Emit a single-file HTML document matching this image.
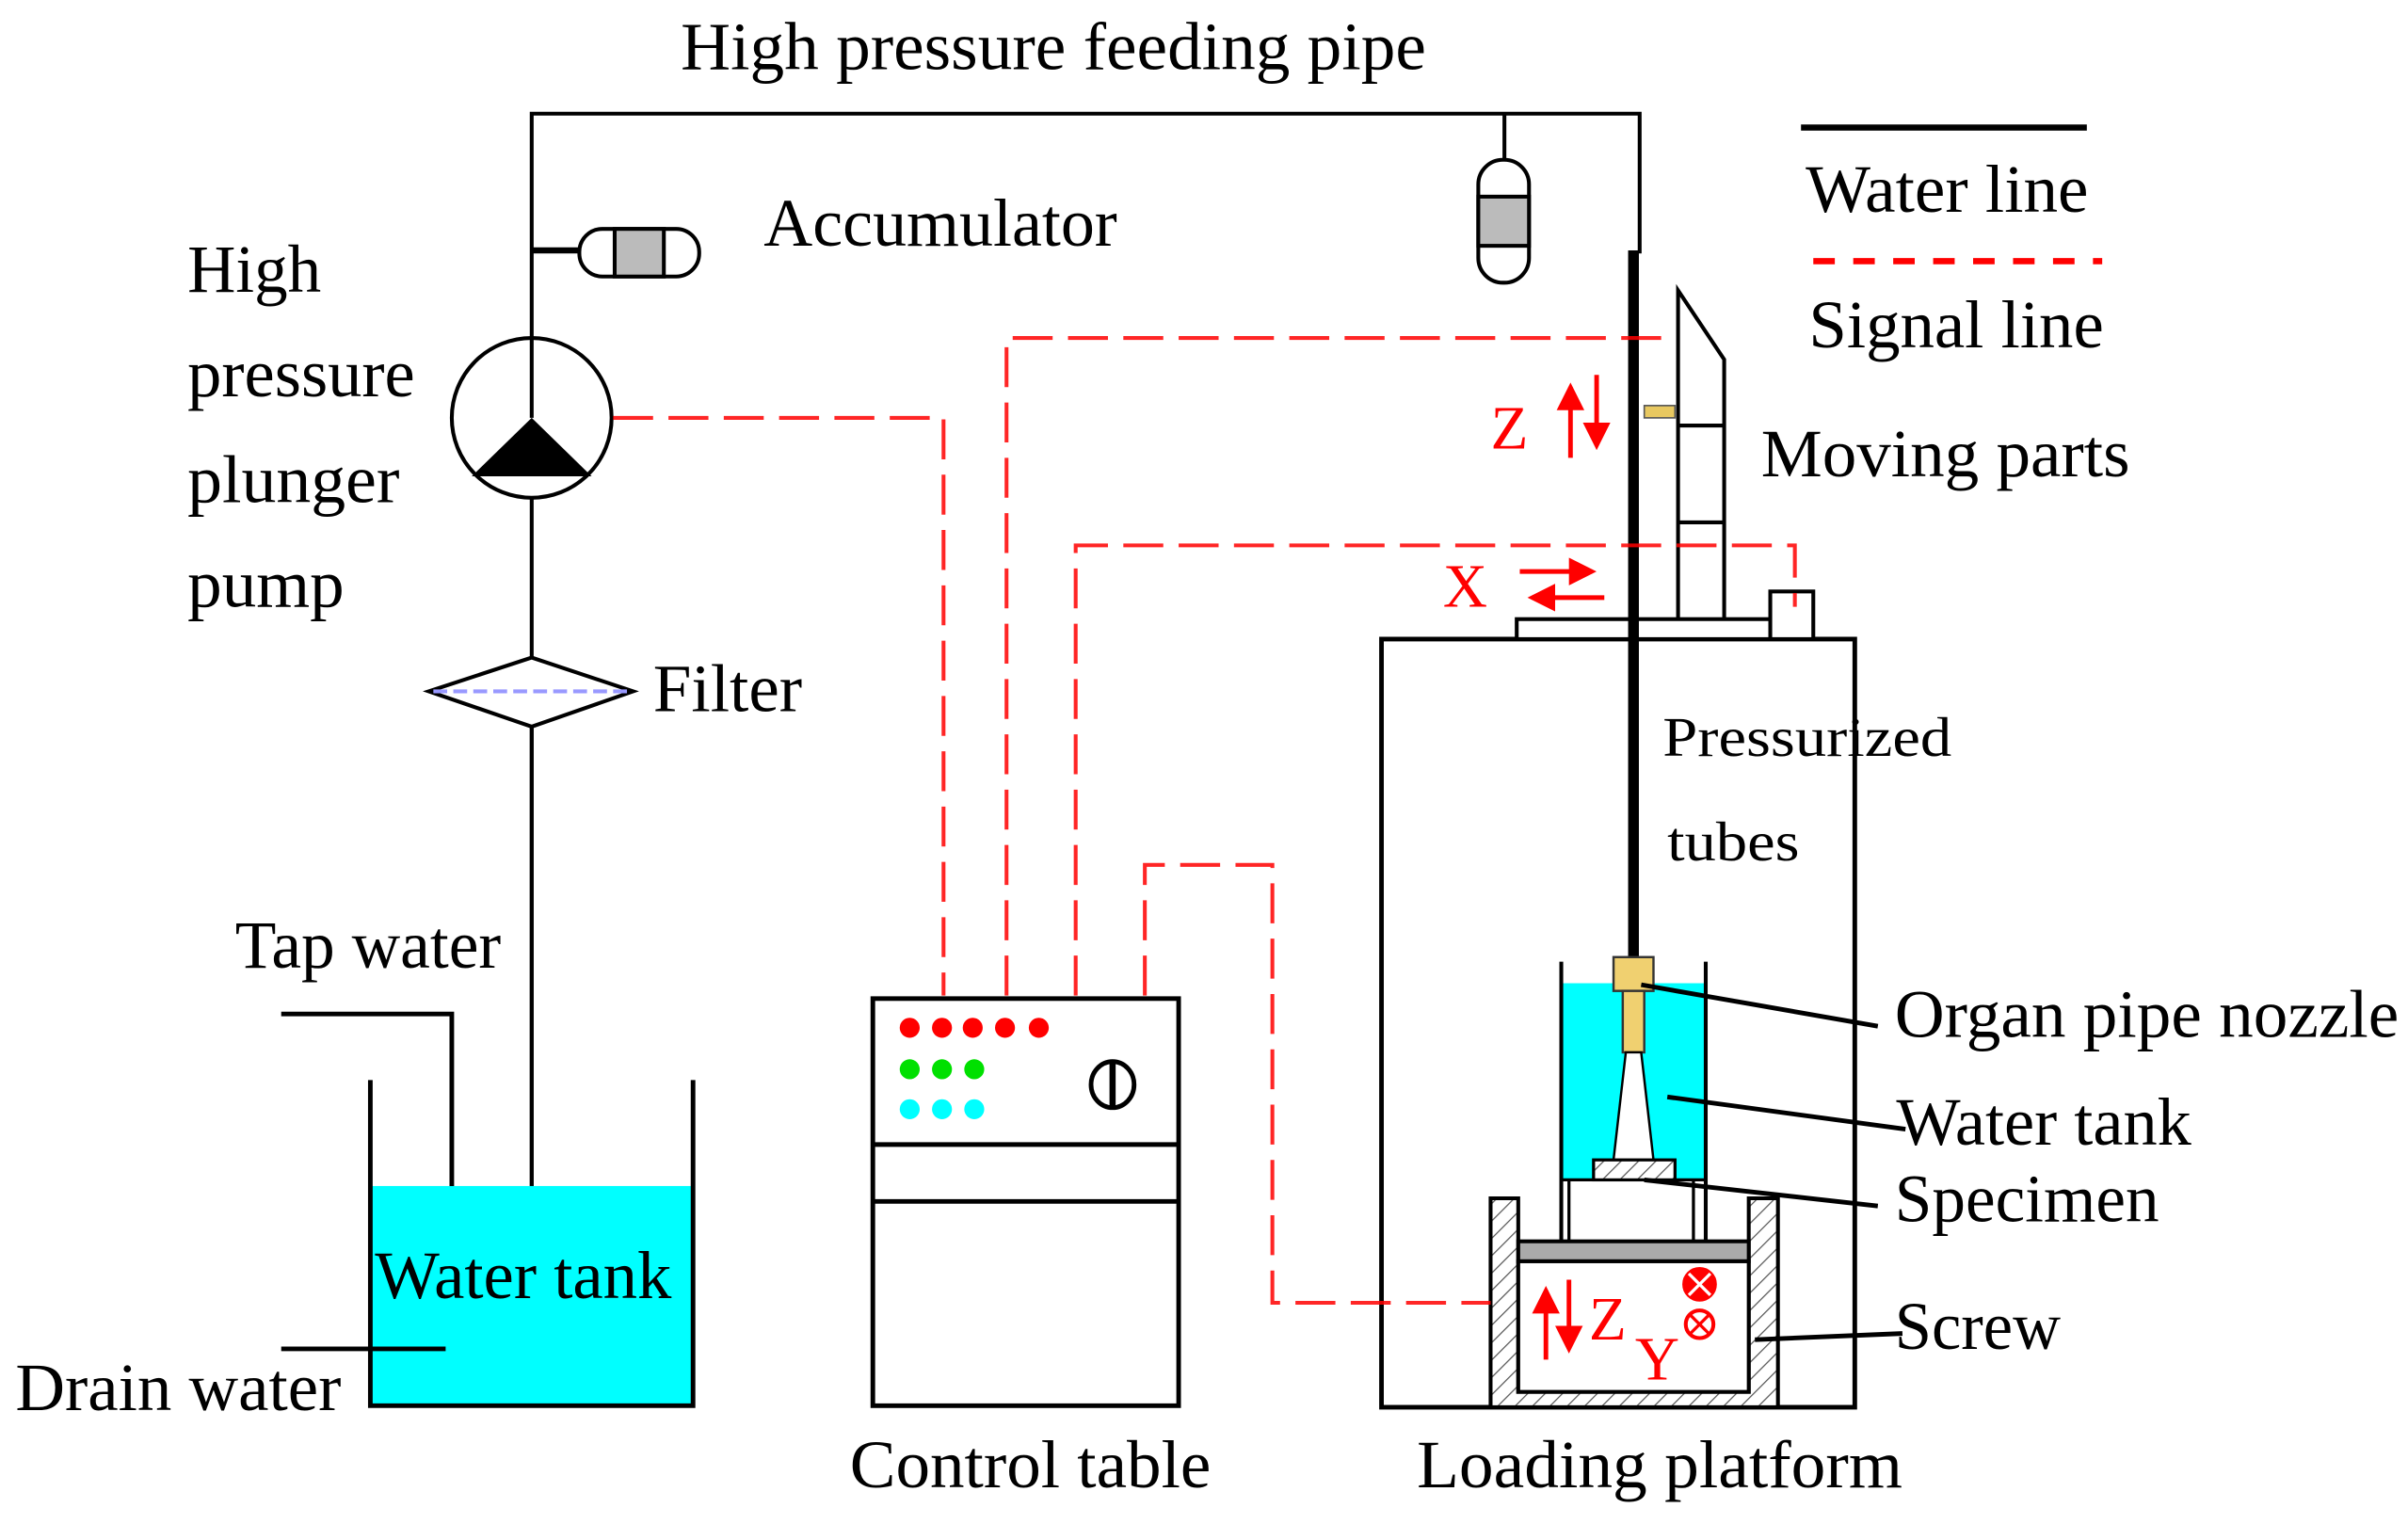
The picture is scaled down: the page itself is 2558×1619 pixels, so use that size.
<!DOCTYPE html>
<html><head><meta charset="utf-8"><style>
html,body{margin:0;padding:0;background:#fff;}
svg{display:block;}
text{font-family:"Liberation Serif",serif;}
</style></head><body>
<svg width="2558" height="1619" viewBox="0 0 1567 992" preserveAspectRatio="none" xmlns="http://www.w3.org/2000/svg">
<defs>
<pattern id="hatch" width="8" height="8" patternUnits="userSpaceOnUse" patternTransform="rotate(45)">
<rect width="8" height="8" fill="#fff"/><line x1="0" y1="0" x2="0" y2="8" stroke="#555" stroke-width="1.5"/>
</pattern>
<marker id="ah" markerWidth="6" markerHeight="6" refX="5" refY="3" orient="auto" markerUnits="strokeWidth"><path d="M0,0 L6,3 L0,6 z" fill="#f00"/></marker>
</defs>
<!-- water pipes -->
<g stroke="#000" stroke-width="2.5" fill="none">
<polyline points="346,772 346,74 1067,74 1067,165"/>
<line x1="979" y1="74" x2="979" y2="104"/>
<line x1="346" y1="163" x2="378" y2="163" stroke-width="4"/>
</g>
<!-- accumulators -->
<rect x="377" y="149" width="78" height="31" rx="15" fill="#fff" stroke="#000" stroke-width="2.5"/>
<rect x="400" y="149" width="32" height="31" fill="#bbb" stroke="#000" stroke-width="2.5"/>
<rect x="962" y="104" width="33" height="80" rx="16" fill="#fff" stroke="#000" stroke-width="2.5"/>
<rect x="962" y="128" width="33" height="32" fill="#bbb" stroke="#000" stroke-width="2.5"/>
<!-- pump -->
<circle cx="346" cy="272" r="52" fill="#fff" stroke="#000" stroke-width="2.5"/>
<line x1="346" y1="220" x2="346" y2="272" stroke="#000" stroke-width="2.5"/>
<polygon points="346,272 307,310 385,310" fill="#000"/>
<!-- filter -->
<polygon points="279,450 346,428 412,450 346,473" fill="#fff" stroke="#000" stroke-width="2.5"/>
<line x1="282" y1="450" x2="410" y2="450" stroke="#99f" stroke-width="2.5" stroke-dasharray="9,4"/>
<line x1="346" y1="473" x2="346" y2="772" stroke="#000" stroke-width="2.5"/>
<!-- left tank -->
<rect x="241" y="772" width="210" height="143" fill="#00ffff"/>
<polyline points="241,703 241,915 451,915 451,703" fill="none" stroke="#000" stroke-width="3"/>
<polyline points="183,660 294,660 294,772" fill="none" stroke="#000" stroke-width="3"/>
<line x1="183" y1="878" x2="290" y2="878" stroke="#000" stroke-width="3"/>
<!-- control table -->
<rect x="568" y="650" width="199" height="265" fill="#fff" stroke="#000" stroke-width="3"/>
<line x1="568" y1="745" x2="767" y2="745" stroke="#000" stroke-width="3"/>
<line x1="568" y1="782" x2="767" y2="782" stroke="#000" stroke-width="3"/>
<g fill="#f00"><circle cx="592" cy="669" r="6.5"/><circle cx="613" cy="669" r="6.5"/><circle cx="633" cy="669" r="6.5"/><circle cx="654" cy="669" r="6.5"/><circle cx="676" cy="669" r="6.5"/></g>
<g fill="#00e000"><circle cx="592" cy="696" r="6.5"/><circle cx="613" cy="696" r="6.5"/><circle cx="634" cy="696" r="6.5"/></g>
<g fill="#00ffff"><circle cx="592" cy="722" r="6.5"/><circle cx="613" cy="722" r="6.5"/><circle cx="634" cy="722" r="6.5"/></g>
<ellipse cx="724" cy="706" rx="14" ry="15" fill="none" stroke="#000" stroke-width="3"/>
<line x1="724" y1="692" x2="724" y2="720" stroke="#000" stroke-width="4"/>
<!-- legend -->
<line x1="1172" y1="83" x2="1358" y2="83" stroke="#000" stroke-width="4"/>
<line x1="1180" y1="170" x2="1368" y2="170" stroke="#f00" stroke-width="4" stroke-dasharray="14,12"/>
<!-- loading platform box -->
<rect x="899" y="416" width="308" height="500" fill="#fff" stroke="#000" stroke-width="3"/>
<rect x="987" y="403" width="165" height="13" fill="#fff" stroke="#000" stroke-width="2.5"/>
<rect x="1152" y="385" width="28" height="31" fill="#fff" stroke="#000" stroke-width="2.5"/>
<!-- moving parts -->
<polyline points="1092,403 1092,189 1122,234 1122,403" fill="none" stroke="#000" stroke-width="2.5"/>
<line x1="1092" y1="277" x2="1122" y2="277" stroke="#000" stroke-width="2.5"/>
<line x1="1092" y1="340" x2="1122" y2="340" stroke="#000" stroke-width="2.5"/>
<rect x="1070" y="264" width="20" height="8" fill="#e8c860" stroke="#555" stroke-width="1"/>
<!-- inner tank -->
<rect x="1016" y="640" width="94" height="128" fill="#00ffff"/>
<line x1="1016" y1="626" x2="1016" y2="808" stroke="#000" stroke-width="2.5"/>
<line x1="1110" y1="626" x2="1110" y2="808" stroke="#000" stroke-width="2.5"/>
<line x1="1021" y1="768" x2="1021" y2="808" stroke="#000" stroke-width="2"/>
<line x1="1102" y1="768" x2="1102" y2="808" stroke="#000" stroke-width="2"/>
<line x1="1016" y1="768" x2="1110" y2="768" stroke="#000" stroke-width="2"/>
<!-- tube -->
<line x1="1063" y1="163" x2="1063" y2="625" stroke="#000" stroke-width="7"/>
<!-- nozzle -->
<rect x="1050" y="623" width="26" height="22" fill="#f0d070" stroke="#333" stroke-width="1.5"/>
<rect x="1056" y="645" width="14" height="40" fill="#f0d070" stroke="#333" stroke-width="1.5"/>
<polygon points="1058,685 1068,685 1076,755 1050,755" fill="#fff" stroke="#000" stroke-width="1.5"/>
<rect x="1037" y="755" width="53" height="13" fill="url(#hatch)" stroke="#000" stroke-width="2"/>
<!-- screw housing -->
<path d="M970,780 H988 V906 H1138 V780 H1157 V916 H970 Z" fill="url(#hatch)" stroke="#000" stroke-width="2.5"/>
<rect x="988" y="808" width="150" height="13" fill="#aaa" stroke="#000" stroke-width="2.5"/>
<rect x="988" y="821" width="150" height="85" fill="#fff" stroke="#000" stroke-width="2.5"/>
<!-- leaders -->
<g stroke="#000" stroke-width="3">
<line x1="1068" y1="641" x2="1222" y2="668"/>
<line x1="1085" y1="714" x2="1240" y2="735"/>
<line x1="1070" y1="768" x2="1222" y2="785"/>
<line x1="1142" y1="872" x2="1238" y2="868"/>
</g>
<!-- signal lines -->
<g stroke="#f00" stroke-width="2.5" fill="none" stroke-dasharray="26,10" opacity="0.85">
<polyline points="399,272 614,272 614,648"/>
<polyline points="655,648 655,220 1090,220"/>
<polyline points="700,648 700,355 1168,355 1168,395"/>
<polyline points="745,648 745,563 828,563 828,848 970,848"/>
</g>
<!-- red arrows & labels -->
<g stroke="#f00" stroke-width="3">
<line x1="1022" y1="298" x2="1022" y2="252" marker-end="url(#ah)"/>
<line x1="1039" y1="244" x2="1039" y2="290" marker-end="url(#ah)"/>
<line x1="989" y1="372" x2="1036" y2="372" marker-end="url(#ah)"/>
<line x1="1044" y1="389" x2="997" y2="389" marker-end="url(#ah)"/>
<line x1="1006" y1="885" x2="1006" y2="840" marker-end="url(#ah)"/>
<line x1="1021" y1="833" x2="1021" y2="878" marker-end="url(#ah)"/>
</g>
<g fill="#f00" font-size="40">
<text x="970" y="292">Z</text>
<text x="939" y="395">X</text>
<text x="1034" y="872">Z</text>
<text x="1064" y="898">Y</text>
</g>
<g stroke="#f00" stroke-width="2.5" fill="#f00">
<circle cx="1106" cy="836" r="10"/>
<circle cx="1106" cy="862" r="9" fill="#fff"/>
</g>
<g stroke="#fff" stroke-width="2"><line x1="1099" y1="829" x2="1113" y2="843"/><line x1="1113" y1="829" x2="1099" y2="843"/></g>
<g stroke="#f00" stroke-width="2"><line x1="1100" y1="856" x2="1112" y2="868"/><line x1="1112" y1="856" x2="1100" y2="868"/></g>
<!-- text on top -->
<g font-size="44" fill="#000">
<text x="443" y="45" textLength="485" lengthAdjust="spacingAndGlyphs">High pressure feeding pipe</text>
<text x="497" y="160" textLength="230" lengthAdjust="spacingAndGlyphs">Accumulator</text>
<text x="122" y="190" textLength="87" lengthAdjust="spacingAndGlyphs">High</text>
<text x="122" y="258" textLength="148" lengthAdjust="spacingAndGlyphs">pressure</text>
<text x="122" y="327" textLength="138" lengthAdjust="spacingAndGlyphs">plunger</text>
<text x="122" y="395" textLength="102" lengthAdjust="spacingAndGlyphs">pump</text>
<text x="425" y="463" textLength="97" lengthAdjust="spacingAndGlyphs">Filter</text>
<text x="153" y="630" textLength="173" lengthAdjust="spacingAndGlyphs">Tap water</text>
<text x="244" y="845" textLength="193" lengthAdjust="spacingAndGlyphs">Water tank</text>
<text x="10" y="918" textLength="212" lengthAdjust="spacingAndGlyphs">Drain water</text>
<text x="553" y="968" textLength="235" lengthAdjust="spacingAndGlyphs">Control table</text>
<text x="922" y="968" textLength="316" lengthAdjust="spacingAndGlyphs">Loading platform</text>
<text x="1175" y="138" textLength="184" lengthAdjust="spacingAndGlyphs">Water line</text>
<text x="1177" y="226" textLength="192" lengthAdjust="spacingAndGlyphs">Signal line</text>
<text x="1146" y="310" textLength="240" lengthAdjust="spacingAndGlyphs">Moving parts</text>
<text x="1233" y="675" textLength="328" lengthAdjust="spacingAndGlyphs">Organ pipe nozzle</text>
<text x="1234" y="745" textLength="192" lengthAdjust="spacingAndGlyphs">Water tank</text>
<text x="1233" y="795" textLength="172" lengthAdjust="spacingAndGlyphs">Specimen</text>
<text x="1233" y="878" textLength="108" lengthAdjust="spacingAndGlyphs">Screw</text>
</g>
<g font-size="36">
<text x="1082" y="492" textLength="188" lengthAdjust="spacingAndGlyphs">Pressurized</text>
<text x="1085" y="560" textLength="86" lengthAdjust="spacingAndGlyphs">tubes</text>
</g>
</svg>
</body></html>
